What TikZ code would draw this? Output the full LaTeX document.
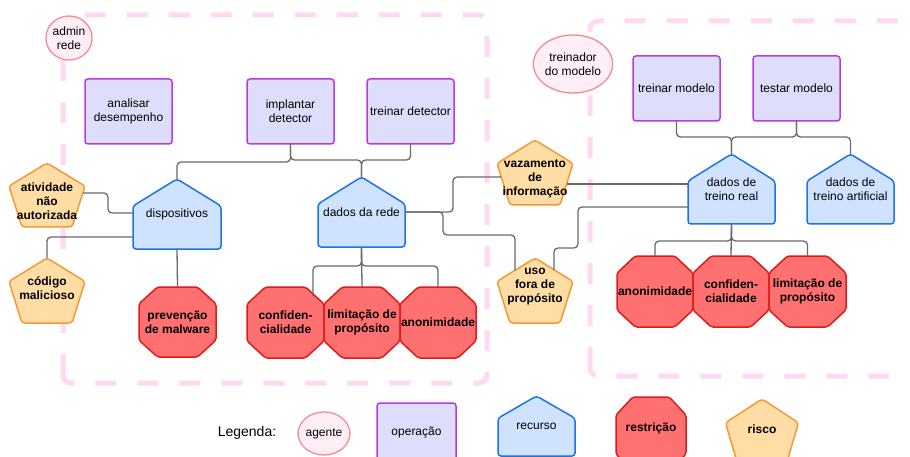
\documentclass[tikz,border=0pt]{standalone}
\usepackage{fontspec}
\setmainfont{Liberation Sans}
\usetikzlibrary{calc,shapes.geometric}
\definecolor{agfill}{RGB}{255,238,246}
\definecolor{agdraw}{RGB}{245,140,140}
\definecolor{opfill}{RGB}{222,222,252}
\definecolor{opdraw}{RGB}{180,60,230}
\definecolor{resfill}{RGB}{207,226,255}
\definecolor{resdraw}{RGB}{30,115,232}
\definecolor{rsfill}{RGB}{255,112,112}
\definecolor{rsdraw}{RGB}{222,28,28}
\definecolor{rkfill}{RGB}{255,221,165}
\definecolor{rkdraw}{RGB}{248,152,52}
\definecolor{regcol}{RGB}{255,217,242}
\definecolor{concol}{RGB}{105,105,105}
\pgfdeclarelayer{regions}
\pgfdeclarelayer{shapes}
\pgfsetlayers{regions,shapes,main}
\tikzset{
  txt/.style={font=\fontsize{12}{14}\selectfont, align=center, inner sep=0pt, outer sep=0pt},
  btxt/.style={txt, font=\fontsize{12}{14}\selectfont\bfseries},
  bb/.style={rectangle, inner sep=0pt, outer sep=0pt, align=center},
  agent/.style={txt, ellipse, draw=agdraw, fill=agfill, line width=1.3pt},
  opbox/.style={txt, rectangle, draw=opdraw, fill=opfill, line width=1.5pt, rounded corners=3pt},
  resshape/.style={draw=resdraw, fill=resfill, line width=1.5pt, rounded corners=3pt},
  rsshape/.style={draw=rsdraw, fill=rsfill, line width=1.5pt, rounded corners=2pt},
  rkshape/.style={draw=rkdraw, fill=rkfill, line width=1.5pt, rounded corners=3pt},
  region/.style={draw=regcol, line width=5pt, dash pattern=on 21pt off 21pt, rounded corners=8pt},
  con/.style={draw=concol, line width=1.3pt, rounded corners=4pt}
}
\newcommand\mkhouse[2][0.615]{%
  \begin{pgfonlayer}{shapes}
  \draw[resshape] (#2.south west) -- ($(#2.south west)!#1!(#2.north west)$) -- (#2.north)
    -- ($(#2.south east)!#1!(#2.north east)$) -- (#2.south east) -- cycle;
  \end{pgfonlayer}}
\newcommand\mkocta[1]{%
  \begin{pgfonlayer}{shapes}
  \draw[rsshape] ($(#1.north west)!0.24!(#1.north east)$) -- ($(#1.north east)!0.24!(#1.north west)$)
    -- ($(#1.north east)!0.24!(#1.south east)$) -- ($(#1.south east)!0.24!(#1.north east)$)
    -- ($(#1.south east)!0.24!(#1.south west)$) -- ($(#1.south west)!0.24!(#1.south east)$)
    -- ($(#1.south west)!0.24!(#1.north west)$) -- ($(#1.north west)!0.24!(#1.south west)$) -- cycle;
  \end{pgfonlayer}}
\newcommand\mkpenta[1]{%
  \begin{pgfonlayer}{shapes}
  \draw[rkshape] (#1.north) -- ($(#1.north east)!0.36!(#1.south east)$)
    -- ($(#1.south east)!0.17!(#1.south west)$) -- ($(#1.south west)!0.17!(#1.south east)$)
    -- ($(#1.north west)!0.36!(#1.south west)$) -- cycle;
  \end{pgfonlayer}}
\begin{document}
\begin{tikzpicture}[x=1pt,y=-1pt]
\useasboundingbox (0,0) rectangle (910,457);
\clip (0,0) rectangle (910,457);
% regions
\begin{pgfonlayer}{regions}
\draw[region] (63,383) -- (63,15) -- (487,15) -- (487,383) -- cycle;
\draw[region] (590,376) -- (590,21) -- (940,21) -- (940,376) -- cycle;
\end{pgfonlayer}
% agents
\node[agent, minimum width=44, minimum height=44] (adm) at (69,38) {admin\\rede};
\node[agent, minimum width=66, minimum height=58] (trm) at (573,64) {treinador\\do modelo};
% operations
\node[opbox, minimum width=87, minimum height=65] (ana) at (128.5,111.5) {analisar\\desempenho};
\node[opbox, minimum width=87, minimum height=65] (imp) at (290.5,111.5) {implantar\\detector};
\node[opbox, minimum width=87, minimum height=65] (trd) at (410.5,111.5) {treinar detector};
\node[opbox, minimum width=87, minimum height=65] (tmo) at (676.5,88.5) {treinar modelo};
\node[opbox, minimum width=87, minimum height=65] (tst) at (796.5,88.5) {testar modelo};
% resources
\node[bb, txt, minimum width=88, minimum height=70] (disp) at (177,214) {dispositivos};
\mkhouse{disp}
\node[bb, txt, minimum width=87, minimum height=70] (rede) at (361.5,212) {dados da rede};
\mkhouse{rede}
\node[bb, txt, minimum width=87, minimum height=70] (real) at (731.5,189) {dados de\\treino real};
\mkhouse{real}
\node[bb, txt, minimum width=87, minimum height=70] (art) at (850.5,189) {dados de\\treino artificial};
\mkhouse{art}
% restrictions
\node[bb, btxt, minimum width=77, minimum height=70] (prev) at (177.5,322) {prevenção\\de malware};
\mkocta{prev}
\node[bb, btxt, minimum width=77, minimum height=71] (conf1) at (285.5,322.5) {confiden-\\cialidade};
\mkocta{conf1}
\node[bb, btxt, minimum width=76, minimum height=71] (lim1) at (362,322.5) {limitação de\\propósito};
\mkocta{lim1}
\node[bb, btxt, minimum width=76, minimum height=71] (ano1) at (438,322.5) {anonimidade};
\mkocta{ano1}
\node[bb, btxt, minimum width=76, minimum height=71] (ano2) at (655,291.5) {anonimidade};
\mkocta{ano2}
\node[bb, btxt, minimum width=76, minimum height=71] (conf2) at (731,291.5) {confiden-\\cialidade};
\mkocta{conf2}
\node[bb, btxt, minimum width=77, minimum height=71] (lim2) at (807.5,291.5) {limitação de\\propósito};
\mkocta{lim2}
% risks
\node[bb, minimum width=76, minimum height=64] (atv) at (47,195) {};
\mkpenta{atv}
\node[btxt] (atvt) at (47,201) {atividade\\não\\autorizada};
\node[bb, minimum width=76, minimum height=65] (cod) at (47,290.5) {};
\mkpenta{cod}
\node[btxt] (codt) at (47,288.5) {código\\malicioso};
\node[bb, minimum width=76, minimum height=65] (vaz) at (535,172.5) {};
\mkpenta{vaz}
\node[btxt] (vazt) at (535,179) {vazamento\\de\\informação};
\node[bb, minimum width=76, minimum height=65] (uso) at (535,290.5) {};
\mkpenta{uso}
\node[btxt] (usot) at (535,286.5) {uso\\fora de\\propósito};
% connectors
\draw[con] (imp.south) -- ++(0,18) -| (disp.north);
\draw[con] (imp.south) -- ++(0,16) -| (rede.north);
\draw[con] (trd.south) -- ++(0,16) -| (rede.north);
\draw[con] ($(atv.east)+(-2,-2)$) -- ++(25,0) |- ($(disp.west)+(0,-1)$);
\draw[con] (cod.north) |- ($(disp.south west)+(0,-12)$);
\draw[con] (disp.south) -- (prev.north);
\draw[con] (rede.south) -- ++(0,19) -| ($(conf1.north east)+(-11,9)$);
\draw[con] (rede.south) -- (lim1.north);
\draw[con] (rede.south) -- ++(0,19) -| (ano1.north);
\draw[con] (rede.east) -- ++(48,0) |- ($(vaz.west)+(4,4.5)$);
\draw[con] (rede.east) -- ++(38,0) |- ($(uso.north)+(-20,-23)$) -- ($(uso.north)+(-20,12.5)$);
\draw[con] ($(vaz.east)+(-6,11.5)$) -- ($(real.west)+(0,-5)$);
\draw[con] ($(uso.north)+(19,12)$) |- ($(uso.north)+(43,-10)$) |- ($(real.west)+(0,18)$);
\draw[con] (tmo.south) -- ++(0,16) -| (real.north);
\draw[con] (tst.south) -- ++(0,16) -| (real.north);
\draw[con] (tst.south) -- ++(0,16) -| (art.north);
\draw[con] (real.south) -- ++(0,17) -| (ano2.north);
\draw[con] (real.south) -- (conf2.north);
\draw[con] (real.south) -- ++(0,17) -| (lim2.north);
% legend
\node[txt, font=\fontsize{14}{16}\selectfont] (leg) at (247,433) {Legenda:};
\node[agent, minimum width=44, minimum height=43] (lagt) at (324,433.5) {agente};
\node[opbox, minimum width=79, minimum height=65] (lop) at (416.5,435.5) {};
\node[txt] (lopt) at (416.5,432) {operação};
\node[bb, txt, minimum width=77, minimum height=60] (lres) at (536.5,426) {recurso};
\mkhouse[0.63]{lres}
\node[bb, minimum width=70, minimum height=75] (lrs) at (651,434.5) {};
\mkocta{lrs}
\node[btxt] (lrst) at (651,428) {restrição};
\node[bb, minimum width=73, minimum height=66] (lrk) at (762,432) {};
\mkpenta{lrk}
\node[btxt] (lrkt) at (762,429) {risco};
\end{tikzpicture}
\end{document}
